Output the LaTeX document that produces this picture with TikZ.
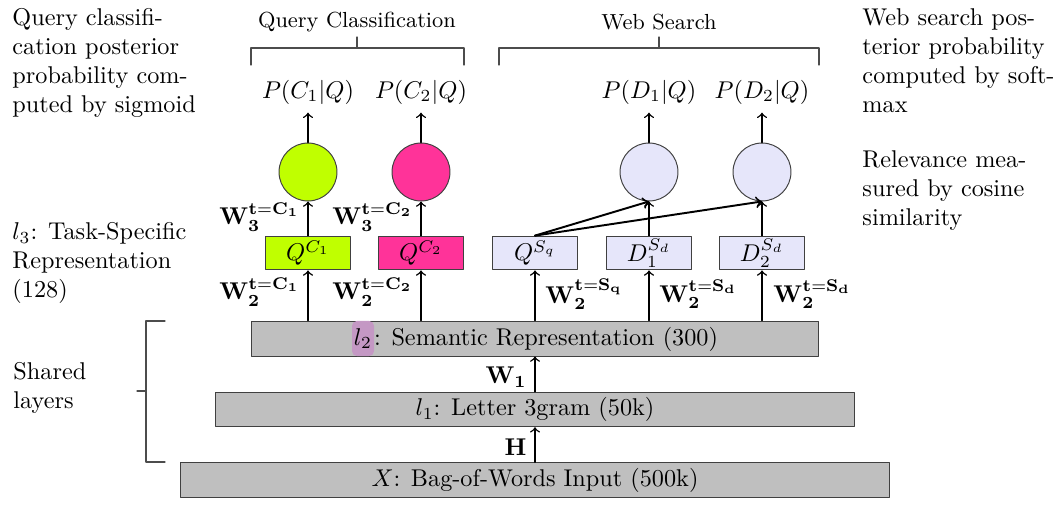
\documentclass[tikz,border=0pt]{standalone}
\usetikzlibrary{positioning}
\definecolor{limeC}{RGB}{192,255,0}
\definecolor{pinkC}{RGB}{255,51,153}
\definecolor{lavC}{RGB}{230,230,250}
\definecolor{hlC}{RGB}{196,152,196}
\definecolor{layerC}{RGB}{191,191,191}
\tikzset{
  layer/.style={draw=black!75,fill=layerC,minimum height=0.5cm,inner sep=0pt},
  taskbox/.style={draw=black!75,minimum width=1.23cm,minimum height=0.49cm,inner sep=0pt},
  unit/.style={circle,draw=black!75,minimum size=0.84cm,inner sep=0pt},
  note/.style={align=left,anchor=north west,inner sep=0pt},
  brace/.style={draw=black!70,line width=0.5pt},
  link/.style={->,line width=0.6pt},
  marker/.style={fill=hlC,draw=none,rounded corners=2pt,minimum width=0pt,minimum height=0pt,inner xsep=0.8pt,inner ysep=3pt}
}
\newcommand{\hlmath}[1]{\tikz[baseline]\node[anchor=base,marker] (l2hl) {#1};}
\begin{document}
\begin{tikzpicture}[x=0.0145cm,y=-0.0145cm,line join=round,line cap=round]
\useasboundingbox (0,0) rectangle (1063,509);
% shared layers
\node[layer,minimum width=10.28cm] (x) at (535,480) {$X$: Bag-of-Words Input (500k)};
\node[layer,minimum width=9.25cm] (l1) at (535,409.5) {$l_1$: Letter 3gram (50k)};
\node[layer,minimum width=8.22cm] (l2) at (535,338.5) {\hlmath{$l_2$}: Semantic Representation (300)};
% task-specific layer
\node[taskbox,fill=limeC] (qc1) at (308,253) {$Q^{C_1}$};
\node[taskbox,fill=pinkC] (qc2) at (421,253) {$Q^{C_2}$};
\node[taskbox,fill=lavC] (qs) at (535,253) {$Q^{S_q}$};
\node[taskbox,fill=lavC] (d1) at (649,253) {$D_1^{S_d}$};
\node[taskbox,fill=lavC] (d2) at (762,253) {$D_2^{S_d}$};
% output units
\node[unit,fill=limeC] (c1) at (308,172) {};
\node[unit,fill=pinkC] (c2) at (421,172) {};
\node[unit,fill=lavC] (s1) at (649,172) {};
\node[unit,fill=lavC] (s2) at (762,172) {};
\node (p1) at (308,92) {$P(C_1|Q)$};
\node (p2) at (421,92) {$P(C_2|Q)$};
\node (p3) at (649,92) {$P(D_1|Q)$};
\node (p4) at (762,92) {$P(D_2|Q)$};
% arrows
\draw[link] (x) -- (l1);
\draw[link] (l1) -- (l2);
\foreach \t in {qc1,qc2,qs,d1,d2}
  \draw[link] (l2.north -| \t) -- (\t);
\draw[link] (qc1) -- (c1);
\draw[link] (qc2) -- (c2);
\draw[link] (d1) -- (s1);
\draw[link] (d2) -- (s2);
\draw[link,line width=0.8pt] (qs.north) -- (s1.south);
\draw[link,line width=0.8pt] (qs.north) -- (s2.south);
\draw[link] (c1) -- (p1);
\draw[link] (c2) -- (p2);
\draw[link] (s1) -- (p3);
\draw[link] (s2) -- (p4);
% weight labels
\node[anchor=east,inner sep=0pt] (h) at (527,447) {$\mathbf{H}$};
\node[anchor=east,inner sep=0pt] (w1) at (527,377) {$\mathbf{W_1}$};
\node[anchor=east,inner sep=0pt] (w3a) at (300,217) {$\mathbf{W_3^{t=C_1}}$};
\node[anchor=east,inner sep=0pt] (w3b) at (413,217) {$\mathbf{W_3^{t=C_2}}$};
\node[anchor=east,inner sep=0pt] (w2a) at (300,292) {$\mathbf{W_2^{t=C_1}}$};
\node[anchor=east,inner sep=0pt] (w2b) at (413,292) {$\mathbf{W_2^{t=C_2}}$};
\node[anchor=west,inner sep=0pt] (w2c) at (545,294) {$\mathbf{W_2^{t=S_q}}$};
\node[anchor=west,inner sep=0pt] (w2d) at (659,294) {$\mathbf{W_2^{t=S_d}}$};
\node[anchor=west,inner sep=0pt] (w2e) at (773,294) {$\mathbf{W_2^{t=S_d}}$};
% brackets
\path (251,65) coordinate (qa) (464,65) coordinate (qb) (357,37) coordinate (qm)
      (499,65) coordinate (wa) (819,65) coordinate (wb) (659,37) coordinate (wm)
      (165,321) coordinate (sa) (165,462) coordinate (sb) (137,391) coordinate (sm);
\draw[brace] (qa) -- (qa|-0,48) -- (qb|-0,48) -- (qb) (qm|-0,48) -- (qm);
\draw[brace] (wa) -- (wa|-0,48) -- (wb|-0,48) -- (wb) (wm|-0,48) -- (wm);
\draw[brace] (sa) -- (146,321) -- (146,462) -- (sb) (146,391) -- (sm);
\node[font=\small] (qclass) at (357,22) {Query Classification};
\node[font=\small] (wsearch) at (659,22) {Web Search};
\node[note] (shared) at (13,362) {Shared\\layers};
% side notes
\node[note] (sig) at (12,8) {Query classifi-\\cation posterior\\probability com-\\puted by sigmoid};
\node[note] (l3) at (12,222) {$l_3$: Task-Specific\\Representation\\(128)};
\node[note] (soft) at (862,8) {Web search pos-\\terior probability\\computed by soft-\\max};
\node[note] (cos) at (862,150) {Relevance mea-\\sured by cosine\\similarity};
\end{tikzpicture}
\end{document}
